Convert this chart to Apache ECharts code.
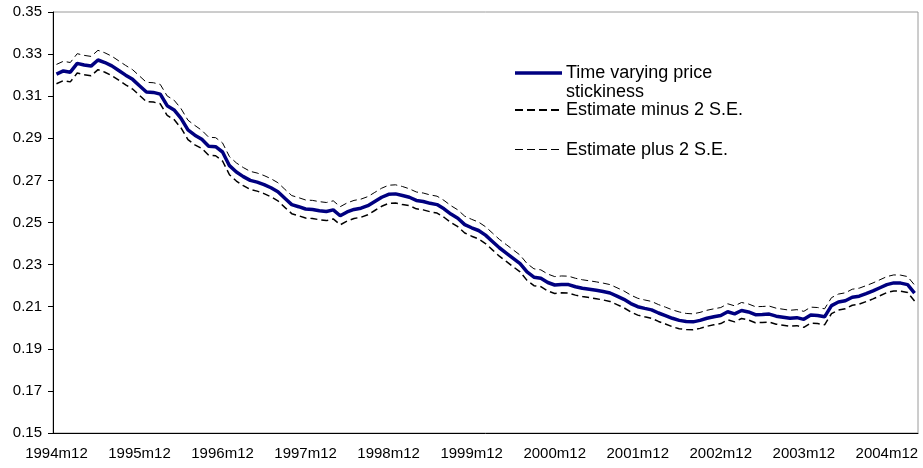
<!DOCTYPE html>
<html>
<head>
<meta charset="utf-8">
<script src="https://cdn.jsdelivr.net/npm/echarts@6/dist/echarts.min.js"></script>
<style>
  html, body { margin: 0; padding: 0; background: #fff; }
  #chart { width: 923px; height: 468px; }
</style>
</head>
<body>
<div id="chart"></div>
<script>
// Monthly categories from 1994m12 onward
const startYear = 1994, startMonth = 12, monthCount = 125;
const months = [];
for (let i = 0; i < monthCount; i++) {
  const m = startMonth - 1 + i;
  months.push((startYear + Math.floor(m / 12)) + 'm' + ((m % 12) + 1));
}

// Time varying price stickiness (estimate)
const stickiness = [
  0.3205, 0.3220, 0.3214, 0.3256, 0.3248, 0.3243, 0.3272, 0.3260, 0.3244, 0.3222,
  0.3200, 0.3180, 0.3150, 0.3120, 0.3118, 0.3110, 0.3055, 0.3035, 0.2995, 0.2940,
  0.2915, 0.2895, 0.2862, 0.2860, 0.2835, 0.2770, 0.2740, 0.2718, 0.2700, 0.2692,
  0.2680, 0.2665, 0.2646, 0.2615, 0.2585, 0.2575, 0.2564, 0.2562, 0.2556, 0.2552,
  0.2560, 0.2532, 0.2550, 0.2562, 0.2568, 0.2580, 0.2600, 0.2620, 0.2634, 0.2636,
  0.2628, 0.2620, 0.2605, 0.2600, 0.2591, 0.2585, 0.2565, 0.2540, 0.2520, 0.2490,
  0.2475, 0.2462, 0.2440, 0.2410, 0.2380, 0.2355, 0.2330, 0.2305, 0.2265, 0.2240,
  0.2235, 0.2215, 0.2203, 0.2206, 0.2205, 0.2195, 0.2188, 0.2183, 0.2178, 0.2172,
  0.2165, 0.2150, 0.2135, 0.2115, 0.2100, 0.2092, 0.2085, 0.2070, 0.2058, 0.2045,
  0.2035, 0.2030, 0.2028, 0.2035, 0.2045, 0.2052, 0.2058, 0.2076, 0.2066, 0.2082,
  0.2075, 0.2062, 0.2063, 0.2065, 0.2055, 0.2050, 0.2045, 0.2048, 0.2040, 0.2060,
  0.2058, 0.2052, 0.2105, 0.2122, 0.2128, 0.2145, 0.2150, 0.2162, 0.2175, 0.2190,
  0.2205, 0.2213, 0.2212, 0.2205, 0.2165
];

// Estimate minus 2 S.E.
const lowerBand = [
  0.3159, 0.3174, 0.3168, 0.3210, 0.3202, 0.3197, 0.3226, 0.3214, 0.3198, 0.3176,
  0.3154, 0.3134, 0.3104, 0.3074, 0.3072, 0.3064, 0.3009, 0.2989, 0.2949, 0.2894,
  0.2869, 0.2852, 0.2819, 0.2817, 0.2792, 0.2727, 0.2697, 0.2675, 0.2657, 0.2649,
  0.2637, 0.2622, 0.2603, 0.2572, 0.2542, 0.2532, 0.2521, 0.2519, 0.2513, 0.2509,
  0.2517, 0.2489, 0.2507, 0.2519, 0.2525, 0.2537, 0.2557, 0.2577, 0.2591, 0.2593,
  0.2585, 0.2580, 0.2565, 0.2560, 0.2551, 0.2545, 0.2525, 0.2500, 0.2480, 0.2450,
  0.2435, 0.2422, 0.2400, 0.2370, 0.2340, 0.2315, 0.2290, 0.2265, 0.2225, 0.2200,
  0.2195, 0.2175, 0.2163, 0.2166, 0.2165, 0.2155, 0.2148, 0.2143, 0.2138, 0.2132,
  0.2125, 0.2110, 0.2095, 0.2075, 0.2060, 0.2052, 0.2045, 0.2030, 0.2018, 0.2005,
  0.1995, 0.1992, 0.1990, 0.1997, 0.2007, 0.2014, 0.2020, 0.2038, 0.2028, 0.2044,
  0.2037, 0.2024, 0.2025, 0.2027, 0.2017, 0.2012, 0.2007, 0.2010, 0.2002, 0.2022,
  0.2020, 0.2014, 0.2067, 0.2084, 0.2090, 0.2107, 0.2112, 0.2124, 0.2137, 0.2152,
  0.2167, 0.2175, 0.2174, 0.2167, 0.2127
];

// Estimate plus 2 S.E.
const upperBand = [
  0.3251, 0.3266, 0.3260, 0.3302, 0.3294, 0.3289, 0.3318, 0.3306, 0.3290, 0.3268,
  0.3246, 0.3226, 0.3196, 0.3166, 0.3164, 0.3156, 0.3101, 0.3081, 0.3041, 0.2986,
  0.2961, 0.2938, 0.2905, 0.2903, 0.2878, 0.2813, 0.2783, 0.2761, 0.2743, 0.2735,
  0.2723, 0.2708, 0.2689, 0.2658, 0.2628, 0.2618, 0.2607, 0.2605, 0.2599, 0.2595,
  0.2603, 0.2575, 0.2593, 0.2605, 0.2611, 0.2623, 0.2643, 0.2663, 0.2677, 0.2679,
  0.2671, 0.2660, 0.2645, 0.2640, 0.2631, 0.2625, 0.2605, 0.2580, 0.2560, 0.2530,
  0.2515, 0.2502, 0.2480, 0.2450, 0.2420, 0.2395, 0.2370, 0.2345, 0.2305, 0.2280,
  0.2275, 0.2255, 0.2243, 0.2246, 0.2245, 0.2235, 0.2228, 0.2223, 0.2218, 0.2212,
  0.2205, 0.2190, 0.2175, 0.2155, 0.2140, 0.2132, 0.2125, 0.2110, 0.2098, 0.2085,
  0.2075, 0.2068, 0.2066, 0.2073, 0.2083, 0.2090, 0.2096, 0.2114, 0.2104, 0.2120,
  0.2113, 0.2100, 0.2101, 0.2103, 0.2093, 0.2088, 0.2083, 0.2086, 0.2078, 0.2098,
  0.2096, 0.2090, 0.2143, 0.2160, 0.2166, 0.2183, 0.2188, 0.2200, 0.2213, 0.2228,
  0.2243, 0.2251, 0.2250, 0.2243, 0.2203
];

const seriesNames = ['Time varying price\nstickiness', 'Estimate minus 2 S.E.', 'Estimate plus 2 S.E.'];

const FONT = "'Liberation Sans', Arial, sans-serif";
const chart = echarts.init(document.getElementById('chart'));

// Legend drawn as graphic elements in the upper right of the plot
function legendEntry(y, lineStyle, text) {
  return [
    { type: 'line', shape: { x1: 515, y1: y, x2: 562, y2: y }, style: lineStyle, silent: true },
    { type: 'text', left: 566, top: Math.round(y) - 9,
      style: { text: text, font: '18px ' + FONT, fill: '#000', lineHeight: 19 } }
  ];
}

chart.setOption({
  animation: false,
  backgroundColor: '#fff',
  grid: { left: 53, right: 5, top: 12, bottom: 35, show: true, borderColor: '#9a9a9a', borderWidth: 1 },
  xAxis: {
    type: 'category',
    data: months,
    boundaryGap: true,
    axisLine: { lineStyle: { color: '#000', width: 1 } },
    axisTick: { interval: 0, length: 4, lineStyle: { color: '#000' } },
    axisLabel: { interval: 11, color: '#000', fontFamily: FONT, fontSize: 15, margin: 13 },
    splitLine: { show: false }
  },
  yAxis: {
    type: 'value',
    min: 0.15,
    max: 0.35,
    interval: 0.02,
    axisLine: { show: true, lineStyle: { color: '#000', width: 1 } },
    axisTick: { show: true, length: 5, lineStyle: { color: '#000' } },
    axisLabel: { color: '#000', fontFamily: FONT, fontSize: 15, margin: 11,
      formatter: v => v.toFixed(2) },
    splitLine: { show: false }
  },
  series: [
    { name: seriesNames[2], type: 'line', data: upperBand, symbol: 'none',
      lineStyle: { color: '#000', width: 1, type: [7, 4] }, z: 2 },
    { name: seriesNames[1], type: 'line', data: lowerBand, symbol: 'none',
      lineStyle: { color: '#000', width: 1.5, type: [7, 4] }, z: 2 },
    { name: seriesNames[0], type: 'line', data: stickiness, symbol: 'none',
      lineStyle: { color: '#000080', width: 3.5 }, z: 3 }
  ],
  graphic: [].concat(
    legendEntry(73, { stroke: '#000080', lineWidth: 3.5 }, seriesNames[0]),
    legendEntry(110, { stroke: '#000', lineWidth: 2, lineDash: [8, 4] }, seriesNames[1]),
    legendEntry(149.5, { stroke: '#000', lineWidth: 1, lineDash: [8, 4] }, seriesNames[2])
  )
});
</script>
</body>
</html>
